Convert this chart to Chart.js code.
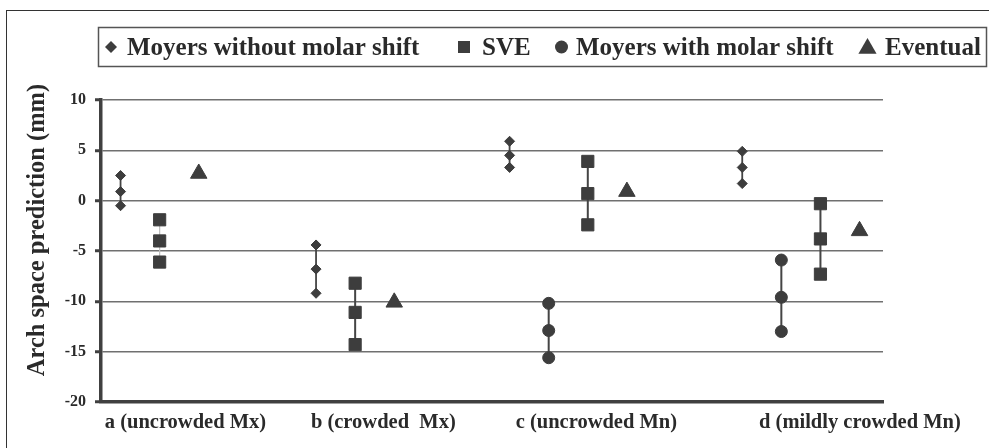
<!DOCTYPE html>
<html><head><meta charset="utf-8">
<script src="https://cdn.jsdelivr.net/npm/chart.js@4.4.0/dist/chart.umd.min.js"></script>
<style>html,body{margin:0;padding:0;background:#fff;}#wrap{width:989px;height:448px;position:relative;}</style>
</head><body><div id="wrap"><canvas id="c" width="989" height="448"></canvas></div>
<script>
// ---- data ----
const categories = ['a (uncrowded Mx)', 'b (crowded  Mx)', 'c (uncrowded Mn)', 'd (mildly crowded Mn)'];
const categoryLabelX = [2.16, 7.22, 12.67, 19.41];
const yTickStep = 5;
const yMin = -20, yMax = 10;
const seriesNames = ['Moyers without molar shift', 'SVE', 'Moyers with molar shift', 'Eventual'];

const moyersWithoutX = [0.5, 5.5, 10.45, 16.4];
const moyersWithoutY = [[2.5, 0.9, -0.5], [-4.4, -6.8, -9.2], [5.9, 4.5, 3.3], [4.9, 3.3, 1.7]];
const sveX = [1.5, 6.5, 12.45, 18.4];
const sveY = [[-1.9, -4.0, -6.1], [-8.2, -11.1, -14.3], [3.9, 0.7, -2.4], [-0.3, -3.8, -7.3]];
const moyersWithX = [11.45, 17.4];          // groups c and d only
const moyersWithY = [[-10.2, -12.9, -15.6], [-5.9, -9.6, -13.0]];
const eventualX = [2.5, 7.5, 13.45, 19.4];
const eventualY = [2.7, -10.1, 0.9, -3.0];

// ---- build point lists ----
function groupPoints(xs, ys) {
  const pts = [];
  xs.forEach((x, i) => {
    ys[i].forEach(v => pts.push({x: x, y: v}));
    pts.push({x: x, y: null});
  });
  return pts;
}
const eventualPts = eventualX.map((x, i) => ({x: x, y: eventualY[i]}));

const DARK = '#3d3d3d';
const FONT = '"Liberation Serif", "Times New Roman", serif';

const datasets = [
  {label: seriesNames[0], data: groupPoints(moyersWithoutX, moyersWithoutY), showLine: true,
   pointStyle: 'rectRot', pointRadius: 5, pointBorderWidth: 1, borderWidth: 1.8,
   backgroundColor: DARK, borderColor: '#454545', pointBackgroundColor: DARK, pointBorderColor: DARK},
  {label: seriesNames[1], data: groupPoints(sveX, sveY), showLine: true,
   pointStyle: 'rect', pointRadius: 8.6, pointBorderWidth: 1, borderWidth: 2,
   backgroundColor: DARK, borderColor: '#454545', pointBackgroundColor: DARK, pointBorderColor: DARK,
   segment: {
     borderColor: c => c.p0.parsed.x < 3 ? '#bdbdbd' : undefined,
     borderWidth: c => c.p0.parsed.x < 3 ? 1.2 : undefined
   }},
  {label: seriesNames[2], data: groupPoints(moyersWithX, moyersWithY), showLine: true,
   pointStyle: 'circle', pointRadius: 6, pointBorderWidth: 1, borderWidth: 2,
   backgroundColor: DARK, borderColor: '#454545', pointBackgroundColor: DARK, pointBorderColor: DARK},
  {label: seriesNames[3], data: eventualPts, showLine: false,
   pointStyle: 'triangle', pointRadius: 9.5, pointBorderWidth: 1,
   backgroundColor: DARK, borderColor: DARK, pointBackgroundColor: DARK, pointBorderColor: DARK}
];

// ---- decoration: frames, legend, y title ----
const legendMarkerX = [111, 464, 561.5, 867.5];
const legendTextX = [127, 482, 576, 885];
const legendMarkerR = [6, 8.5, 6.5, 10.5];

function drawMarker(ctx, style, r, x, y) {
  ctx.beginPath();
  if (style === 'rectRot') {
    ctx.moveTo(x - r, y); ctx.lineTo(x, y - r); ctx.lineTo(x + r, y); ctx.lineTo(x, y + r);
  } else if (style === 'rect') {
    const s = r * Math.SQRT1_2; ctx.rect(x - s, y - s, 2 * s, 2 * s);
  } else if (style === 'circle') {
    ctx.arc(x, y, r, 0, Math.PI * 2);
  } else if (style === 'triangle') {
    ctx.moveTo(x, y - r);
    ctx.lineTo(x + r * Math.sin(2 * Math.PI / 3), y - r * Math.cos(2 * Math.PI / 3));
    ctx.lineTo(x + r * Math.sin(4 * Math.PI / 3), y - r * Math.cos(4 * Math.PI / 3));
  }
  ctx.closePath();
  ctx.fill();
}

const decor = {
  id: 'decor',
  beforeDraw(chart) {
    const ctx = chart.ctx;
    ctx.save();
    ctx.fillStyle = '#fff';
    ctx.fillRect(0, 0, chart.width, chart.height);
    ctx.strokeStyle = '#333';
    ctx.lineWidth = 1;
    ctx.strokeRect(6.5, 10.5, 1000, 1000);
    ctx.restore();
  },
  afterDraw(chart) {
    const ctx = chart.ctx;
    ctx.save();
    // legend box
    ctx.strokeStyle = '#555';
    ctx.lineWidth = 1.5;
    ctx.strokeRect(98.5, 27.5, 888, 39);
    ctx.font = 'bold 25px ' + FONT;
    ctx.textBaseline = 'alphabetic';
    ctx.textAlign = 'left';
    chart.data.datasets.forEach((ds, i) => {
      ctx.fillStyle = ds.pointBackgroundColor;
      drawMarker(ctx, ds.pointStyle, legendMarkerR[i], legendMarkerX[i], i === 3 ? 48.5 : 47);
      ctx.fillStyle = '#2a2a2a';
      ctx.fillText(ds.label, legendTextX[i], 55);
    });
    // y axis title
    ctx.translate(44, 230);
    ctx.rotate(-Math.PI / 2);
    ctx.font = 'bold 24.5px ' + FONT;
    ctx.textAlign = 'center';
    ctx.fillStyle = '#2a2a2a';
    ctx.fillText('Arch space prediction (mm)', 0, 0);
    ctx.restore();
  }
};

new Chart(document.getElementById('c'), {
  type: 'scatter',
  data: {datasets: datasets},
  options: {
    responsive: false,
    animation: false,
    devicePixelRatio: 1,
    layout: {padding: {top: 100, left: 0, right: 106, bottom: 0}},
    plugins: {legend: {display: false}, tooltip: {enabled: false}},
    scales: {
      x: {
        type: 'linear', min: 0, max: 20, position: 'bottom',
        grid: {display: false, drawTicks: false},
        border: {display: true, color: '#404040', width: 3.5},
        afterBuildTicks: s => { s.ticks = categoryLabelX.map(v => ({value: v})); },
        afterFit: s => { s.height = 46; s.paddingLeft = 0; s.paddingRight = 0; },
        ticks: {
          autoSkip: false, maxRotation: 0, minRotation: 0, padding: 8,
          color: '#2a2a2a', font: {family: FONT, size: 20.5, weight: 'bold'},
          callback: (v, i) => categories[i]
        }
      },
      y: {
        type: 'linear', min: yMin, max: yMax,
        afterFit: s => { s.width = 101; },
        grid: {color: '#707070', lineWidth: 1.5, tickLength: 6, tickColor: '#404040', tickWidth: 3},
        border: {display: true, color: '#404040', width: 3.5},
        ticks: {stepSize: yTickStep, padding: 9, color: '#2a2a2a',
                font: {family: FONT, size: 16, weight: 'bold'}}
      }
    }
  },
  plugins: [decor]
});
</script>
</body></html>
